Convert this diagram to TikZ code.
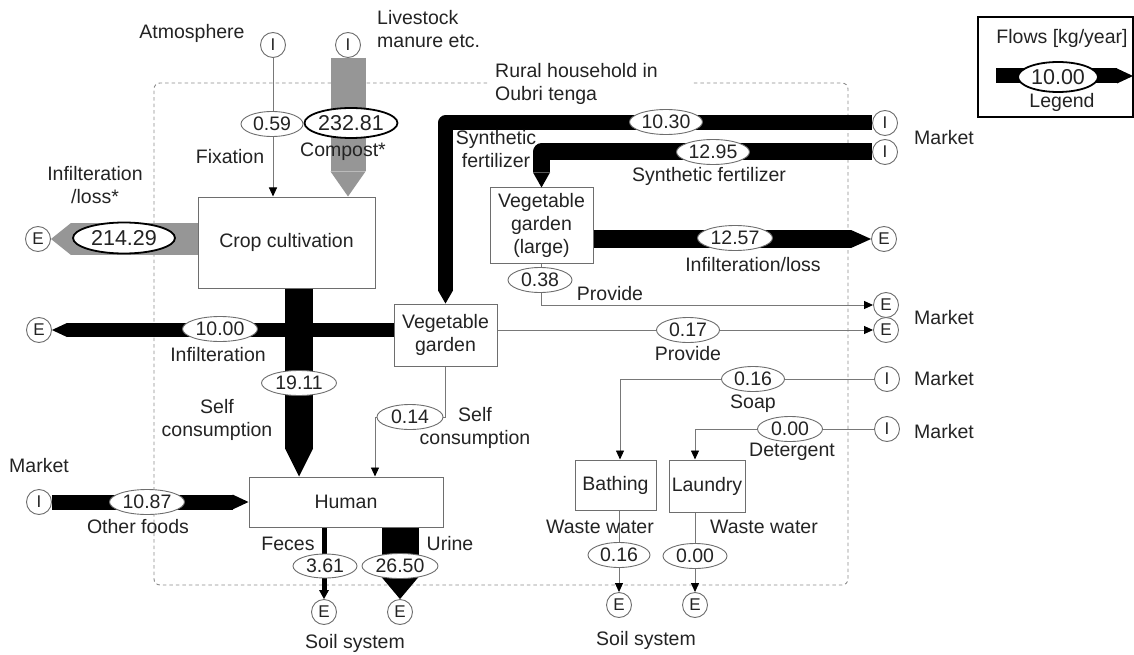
\documentclass[tikz,border=0pt]{standalone}
\usepackage{fontspec}
\setmainfont{Liberation Sans}
\usetikzlibrary{arrows.meta,shapes.geometric,calc}
\definecolor{txt}{RGB}{35,35,35}
\definecolor{edge}{RGB}{110,110,110}
\definecolor{flowgray}{RGB}{150,150,150}
\definecolor{thinline}{RGB}{120,120,120}
\definecolor{bound}{RGB}{140,140,140}
\begin{document}
\begin{tikzpicture}[x=1pt,y=-1pt,
  every node/.style={font=\fontsize{19.5}{23}\selectfont, text=txt, inner sep=0pt},
  proc/.style={draw=edge, line width=1pt, fill=white, align=center},
  port/.style={circle, draw=edge, line width=0.9pt, fill=white, minimum size=25pt,
    font=\fontsize{17}{17}\selectfont},
  val/.style 2 args={ellipse, draw=edge, line width=0.9pt, fill=white,
    minimum width=#1pt, minimum height=#2pt},
  bigval/.style 2 args={ellipse, draw=black, line width=1.8pt, fill=white,
    minimum width=#1pt, minimum height=#2pt, font=\fontsize{21.5}{22}\selectfont},
  lbl/.style={align=center},
  flow/.style 2 args={line width=#1pt, draw=black,
    -{Triangle[width=0pt 1, length=#2pt, line width=0pt]}},
  conn/.style={draw=thinline, line width=0.9pt,
    -{Triangle[width=8pt, length=9pt, color=black]}},
  boundary/.style={draw=bound, line width=0.9pt, dash pattern=on 3.5pt off 3pt, rounded corners=6pt}
]
\useasboundingbox (0,0) rectangle (1134,655);

% system boundary with a gap for its title
\draw[boundary] (487,83) -- (154,83) -- (154,585) -- (848,585) -- (848,83) -- (693,83);

% import / export ports
\node[port] (iatm) at (273,45) {I};
\node[port] (iman) at (348,45) {I};
\node[port] (eloss) at (38,239) {E};
\node[port] (isyn1) at (885,123) {I};
\node[port] (isyn2) at (885,152) {I};
\node[port] (elarge) at (884,239) {E};
\node[port] (eprov1) at (886,305) {E};
\node[port] (eprov2) at (886,330) {E};
\node[port] (einf) at (39,330) {E};
\node[port] (isoap) at (887,379) {I};
\node[port] (idet) at (887,429) {I};
\node[port] (ifood) at (39,502) {I};
\node[port] (efec) at (324,612) {E};
\node[port] (euri) at (400,612) {E};
\node[port] (ebath) at (619,605) {E};
\node[port] (elaun) at (695,605) {E};

% processes
\node[proc, minimum width=177pt, minimum height=91pt] (crop) at (286.5,242.5) {Crop cultivation};
\node[proc, minimum width=103pt, minimum height=75pt] (vgl) at (541.5,225.5) {Vegetable\\garden\\(large)};
\node[proc, minimum width=103pt, minimum height=62pt] (vg) at (445.5,335) {Vegetable\\garden};
\node[proc, minimum width=194pt, minimum height=50pt] (human) at (346,502) {Human};
\node[proc, minimum width=81pt, minimum height=50pt] (bath) at (615.5,485) {Bathing};
\node[proc, minimum width=76pt, minimum height=52pt] (laun) at (707,486) {Laundry};

\coordinate (selfc) at ([xshift=12.5pt]crop.south);
\coordinate (humin) at ([xshift=29pt]human.north);
\coordinate (bathin) at ([xshift=4.5pt]bath.north);
\coordinate (launin) at ([xshift=-12pt]laun.north);

% wide flows
\draw[flow={35}{25}, draw=flowgray] (iman.south) -- (iman.south |- crop.north);
\draw[flow={32}{20}, draw=flowgray] (crop.west |- eloss) -- (eloss.east);
\draw[flow={15}{13}, line join=round] (isyn1.west) -| (vg.north);
\draw[flow={17}{15}, line join=round] (isyn2.west) -| (vgl.north);
\draw[flow={18}{20}] (vgl.east |- elarge) -- (elarge.west);
\draw[flow={14}{15}] (vg.west |- einf) -- (einf.east);
\draw[flow={28}{28}] (selfc) -- (selfc |- human.north);
\draw[flow={15}{16}] (ifood.east) -- (ifood -| human.west);
\draw[line width=5pt, -{Triangle[width=10pt, length=9pt, line width=0pt]}] (efec |- human.south) -- (efec.north);
\draw[flow={37}{22}] (euri |- human.south) -- (euri.north);

% thin flows
\draw[conn] (iatm.south) -- (iatm.south |- crop.north);
\draw[conn] (vgl.south) |- (eprov1.west);
\draw[conn] (vg.east |- eprov2) -- (eprov2.west);
\draw[conn] (isoap.west) -| (bathin);
\draw[conn] (idet.west) -| (launin);
\draw[conn] (ebath |- bath.south) -- (ebath.north);
\draw[conn] (elaun |- laun.south) -- (elaun.north);
\draw[conn] (vg.south) -- ++(0,51) -| (humin);

% flow values
\node[val={62}{25}] (v059) at (272,124) {0.59};
\node[bigval={93}{30}] (v232) at (351,123) {232.81};
\node[bigval={102}{31}] (v214) at (124,238) {214.29};
\node[val={73}{25}] (v1030) at (666,122) {10.30};
\node[val={73}{25}] (v1295) at (713,152) {12.95};
\node[val={75}{25}] (v1257) at (735,238) {12.57};
\node[val={64}{25}] (v038) at (540,280) {0.38};
\node[val={63}{25}] (v017) at (688,330) {0.17};
\node[val={75}{25}] (v1000) at (220,329) {10.00};
\node[val={75}{25}] (v1911) at (299,383) {19.11};
\node[val={66}{25}] (v014) at (410,417) {0.14};
\node[val={75}{25}] (v1087) at (147,502) {10.87};
\node[val={64}{24}] (v361) at (325,566) {3.61};
\node[val={76}{25}] (v2650) at (400,566) {26.50};
\node[val={63}{25}] (v016a) at (753,379) {0.16};
\node[val={65}{25}] (v000a) at (790,429) {0.00};
\node[val={62}{25}] (v016b) at (619,555) {0.16};
\node[val={64}{25}] (v000b) at (695,556) {0.00};

% labels
\node (tatm) at (192,33) {Atmosphere};
\node[anchor=west, align=left] (tman) at (377,29.5) {Livestock\\manure etc.};
\node[anchor=west, align=left] (trural) at (495,84) {Rural household in\\Oubri tenga};
\node (tfix) at (230,157) {Fixation};
\node (tcomp) at (343,152) {Compost*};
\node[lbl] (tloss) at (95,185) {Infilteration\\/loss*};
\node[lbl] (tsyn1) at (496,149) {Synthetic\\fertilizer};
\node (tsyn2) at (709,176) {Synthetic fertilizer};
\node (tinf2) at (753,265) {Infilteration/loss};
\node (tprov1) at (610,294) {Provide};
\node (tprov2) at (688,354) {Provide};
\node (tinf) at (218,355) {Infilteration};
\node[lbl] (tself1) at (217,419.5) {Self\\consumption};
\node[lbl] (tself2) at (475,428) {Self\\consumption};
\node (tmkl) at (39,466) {Market};
\node (tfood) at (138,527) {Other foods};
\node (tfec) at (288,544) {Feces};
\node (turi) at (450,544) {Urine};
\node (tsoil1) at (355,643) {Soil system};
\node (tsoil2) at (646,640) {Soil system};
\node (tsoap) at (753,404) {Soap};
\node (tdet) at (792,452) {Detergent};
\node (tww1) at (600,527) {Waste water};
\node (tww2) at (764,527) {Waste water};
\node[anchor=west] (tmk1) at (914,138) {Market};
\node[anchor=west] (tmk2) at (914,318) {Market};
\node[anchor=west] (tmk3) at (914,379) {Market};
\node[anchor=west] (tmk4) at (914,432) {Market};

% legend
\node[draw=black, line width=2pt, minimum width=155pt, minimum height=100pt] (legbox) at (1055,67.5) {};
\node (tflows) at (1062,38) {Flows [kg/year]};
\coordinate (legs) at (996,76);
\coordinate (lege) at (1133,76);
\draw[flow={15}{16}] (legs) -- (lege);
\node[bigval={80}{30}] (vleg) at (1058,77) {10.00};
\node (tleg) at (1062,102) {Legend};
\end{tikzpicture}
\end{document}
